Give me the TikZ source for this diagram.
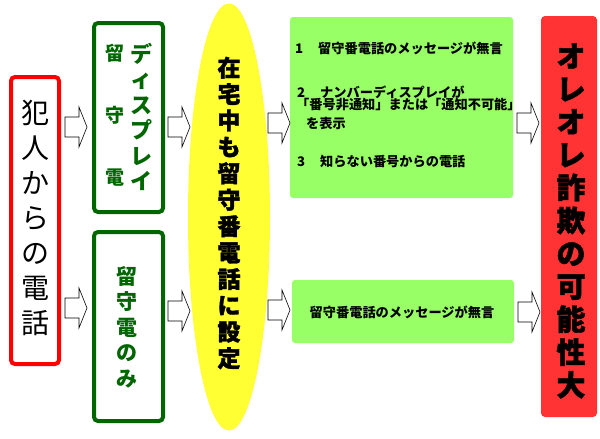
\documentclass[tikz,border=0pt]{standalone}
\usepackage{fontspec}
\newfontfamily\jp{Noto Sans CJK JP}
\newfontfamily\jpx[BoldFeatures={FakeBold=1.5}]{Noto Sans CJK JP}
\usetikzlibrary{shapes.geometric}
\definecolor{dgreen}{RGB}{0,102,0}
\definecolor{lgreen}{RGB}{153,255,102}
\definecolor{ylw}{RGB}{255,255,51}
\definecolor{rfill}{RGB}{255,51,51}
\begin{document}
\begin{tikzpicture}[x=1pt,y=-1pt,
  redbox/.style={draw=red,line width=4pt,rounded corners=4pt,fill=white},
  greenbox/.style={draw=dgreen,line width=4pt,rounded corners=4pt,fill=white},
  lgbox/.style={fill=lgreen,rounded corners=3pt},
  barrow/.pic={\draw[fill=white,line width=0.6pt] (0,-10) -- (14,-10) -- (14,-20) -- (22,0) -- (14,20) -- (14,10) -- (0,10) -- cycle; \coordinate (-tip) at (22,0);},
  vtxt/.style={align=center,inner sep=0pt},
  ltxt/.style={anchor=west,inner sep=0pt,font=\jp\bfseries\fontsize{13.2}{15}\selectfont}]
\useasboundingbox (0,0) rectangle (600,439);
% boxes
\draw[redbox] (11,77) rectangle (59,364);
\node[vtxt,font=\jp\fontsize{28}{35}\selectfont] (src) at (35,218) {犯\\人\\か\\ら\\の\\電\\話};
\draw[greenbox] (94,23) rectangle (163,212);
\node[vtxt,text=dgreen,font=\jp\bfseries\fontsize{19}{62}\selectfont] (g1a) at (115,115) {留\\守\\電};
\node[vtxt,text=dgreen,font=\jp\bfseries\fontsize{22}{25.4}\selectfont] (g1b) at (141,117) {デ\\ィ\\ス\\プ\\レ\\イ};
\draw[greenbox] (94,232) rectangle (163,421);
\node[vtxt,text=dgreen,font=\jp\bfseries\fontsize{21}{25.5}\selectfont] (g2) at (127,327) {留\\守\\電\\の\\み};
\node[ellipse,fill=ylw,minimum width=82pt,minimum height=427pt,inner sep=0pt] (ell) at (229,217) {};
\node[vtxt,font=\jpx\bfseries\fontsize{23}{26.4}\selectfont] (ellt) at (229,213) {在\\宅\\中\\も\\留\\守\\番\\電\\話\\に\\設\\定};
\fill[lgbox] (290,17) rectangle (513,198);
\node[ltxt] (l1) at (295,48) {1\hspace{15pt}留守番電話のメッセージが無言};
\node[ltxt] (l2) at (297,92) {2\hspace{15pt}ナンバーディスプレイが};
\node[ltxt] (l3) at (296,105) {「番号非通知」または「通知不可能」};
\node[ltxt] (l4) at (306,123) {を表示};
\node[ltxt] (l5) at (297,162) {3\hspace{15pt}知らない番号からの電話};
\fill[lgbox] (292,280) rectangle (514,343);
\node[ltxt,anchor=center] (b1) at (402,312) {留守番電話のメッセージが無言};
\fill[rfill,rounded corners=4pt] (541,16) rectangle (597,417);
\node[vtxt,font=\jpx\bfseries\fontsize{29}{32.9}\selectfont] (res) at (571,221) {オ\\レ\\オ\\レ\\詐\\欺\\の\\可\\能\\性\\大};
% arrows
\pic (a1) at (65,127) {barrow};
\pic (a2) at (65,308) {barrow};
\pic (a3) at (168,127) {barrow};
\pic (a4) at (168,311) {barrow};
\pic (a5) at (268,123) {barrow};
\pic (a6) at (268,310) {barrow};
\pic (a7) at (517,123) {barrow};
\pic (a8) at (518,312) {barrow};
\end{tikzpicture}
\end{document}
